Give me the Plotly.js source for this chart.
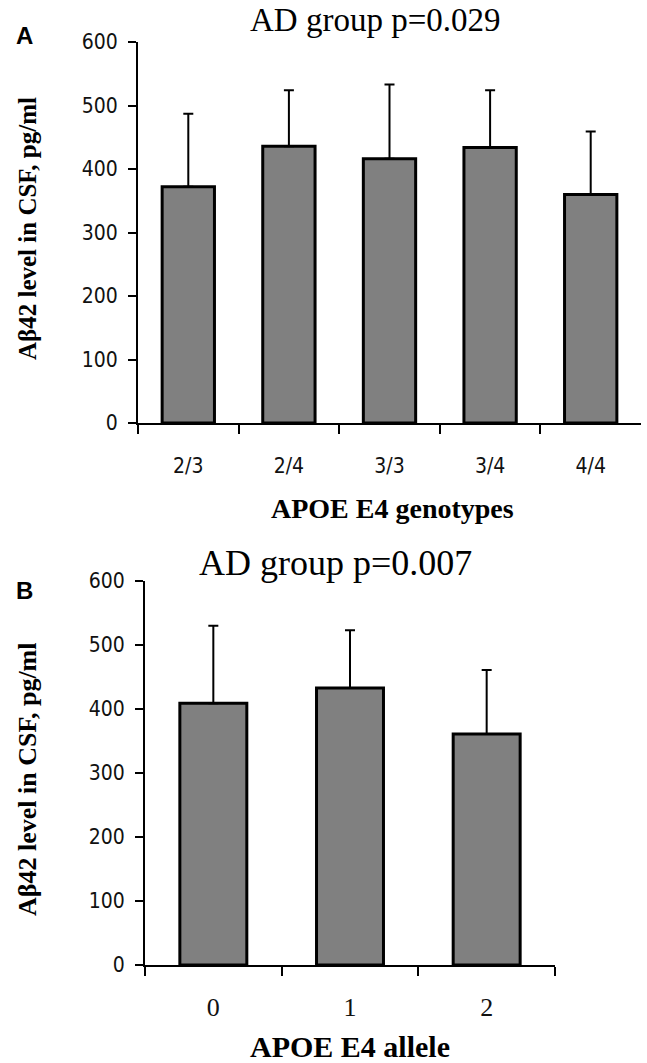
<!DOCTYPE html>
<html>
<head>
<meta charset="utf-8">
<script src="https://cdn.plot.ly/plotly-3.0.1.min.js"></script>
<style>html,body{margin:0;padding:0;background:#fff;}#chart{width:647px;height:1063px;}</style>
</head>
<body>
<div id="chart"></div>
<script>
// Panel A: APOE E4 genotypes
const genotypes = ['2/3', '2/4', '3/3', '3/4', '4/4'];
const genotypeMean = [372, 436, 416, 434, 360];
const genotypeSD = [115, 88, 117, 90, 99];
// Panel B: number of APOE E4 alleles
const alleles = ['0', '1', '2'];
const alleleMean = [409, 433, 361];
const alleleSD = [121, 90, 100];
const yTickVals = [0, 100, 200, 300, 400, 500, 600];

const W = 647, H = 1063;
const px = v => v / W;
const py = v => 1 - v / H;

const barStyle = {color: '#808080', line: {color: '#000', width: 3}};
const errStyle = {type: 'data', symmetric: false, thickness: 2, width: 5, color: '#000'};

const traces = [
  {
    type: 'bar', x: genotypes, y: genotypeMean, xaxis: 'x', yaxis: 'y',
    width: 0.52, marker: barStyle,
    error_y: Object.assign({}, errStyle, {array: genotypeSD, arrayminus: genotypeSD.map(() => 0)}),
    hoverinfo: 'x+y'
  },
  {
    type: 'bar', x: alleles, y: alleleMean, xaxis: 'x2', yaxis: 'y2',
    width: 0.49, marker: barStyle,
    error_y: Object.assign({}, errStyle, {array: alleleSD, arrayminus: alleleSD.map(() => 0)}),
    hoverinfo: 'x+y'
  }
];

const sans = 'DejaVu Sans Condensed, DejaVu Sans, Arial, sans-serif';
const serif = 'Liberation Serif, Times New Roman, serif';

const xBase = {
  type: 'category', showline: true, linecolor: '#000', linewidth: 2,
  ticks: 'outside', ticklen: 9, tickwidth: 2, tickcolor: '#000', tickson: 'boundaries',
  showgrid: false, zeroline: false, fixedrange: true
};
const yBase = {
  range: [0, 600], tickvals: yTickVals, showline: true, linecolor: '#000', linewidth: 2,
  ticks: 'outside', ticklen: 8, tickwidth: 2, tickcolor: '#000',
  showgrid: false, zeroline: false, fixedrange: true,
  tickfont: {family: sans, size: 21, color: '#111'}, ticklabelstandoff: 6
};

function ann(text, x, y, size, family, angle) {
  return {text: text, x: px(x), y: py(y), xref: 'paper', yref: 'paper', showarrow: false,
          xanchor: 'center', yanchor: 'middle', textangle: angle || 0,
          font: {family: family, size: size, color: '#000'}};
}

const layout = {
  width: W, height: H,
  margin: {l: 0, r: 0, t: 0, b: 0},
  paper_bgcolor: '#fff', plot_bgcolor: '#fff',
  showlegend: false,
  xaxis: Object.assign({}, xBase, {
    domain: [px(138), px(641)], anchor: 'y',
    tickfont: {family: sans, size: 21, color: '#111'}, ticklabelstandoff: 23
  }),
  yaxis: Object.assign({}, yBase, {domain: [py(423), py(42)], anchor: 'x'}),
  xaxis2: Object.assign({}, xBase, {
    domain: [px(145), px(555)], anchor: 'y2',
    tickfont: {family: serif, size: 26, color: '#111'}, ticklabelstandoff: 18
  }),
  yaxis2: Object.assign({}, yBase, {domain: [py(965), py(581)], anchor: 'x2'}),
  annotations: [
    ann('<b>A</b>', 24, 35, 24, 'Liberation Sans, Arial, sans-serif'),
    ann('AD group p=0.029', 375, 20, 33, serif),
    ann('<b>APOE E4 genotypes</b>', 392, 508, 28, serif),
    ann('<b>Aβ42 level in CSF, pg/ml</b>', 27, 229, 25, serif, -90),
    ann('<b>B</b>', 24, 590, 24, 'Liberation Sans, Arial, sans-serif'),
    ann('AD group p=0.007', 335, 563, 36, serif),
    ann('<b>APOE E4 allele</b>', 350, 1046, 30, serif),
    ann('<b>Aβ42 level in CSF, pg/ml</b>', 27, 780, 26, serif, -90)
  ]
};

Plotly.newPlot('chart', traces, layout, {displayModeBar: false, staticPlot: true});
</script>
</body>
</html>
